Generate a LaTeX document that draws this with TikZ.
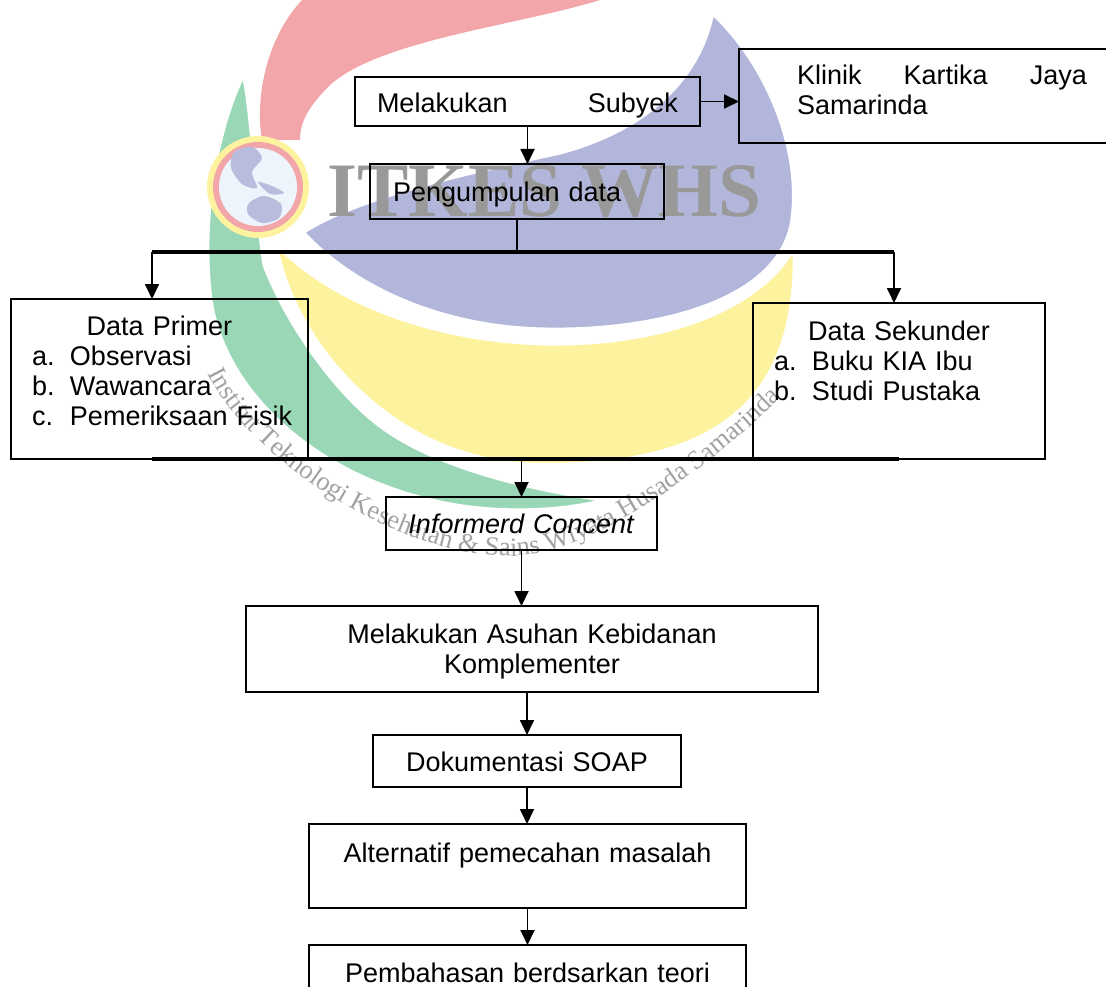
\documentclass[tikz,border=0pt]{standalone}
\usepackage{fontspec}
\setmainfont{Liberation Sans}
\newfontfamily\wmserif{Liberation Serif}
\usetikzlibrary{arrows.meta,decorations.text}
\definecolor{wmpink}{HTML}{F3A6AA}
\definecolor{wmblue}{HTML}{B2B6DA}
\definecolor{wmyellow}{HTML}{FDF39E}
\definecolor{wmgreen}{HTML}{9AD7B7}
\definecolor{wmglobe}{HTML}{EEF4FB}
\definecolor{wmland}{HTML}{B8BCDD}
\definecolor{wmgray}{HTML}{A2A2A2}
\definecolor{itkesgray}{HTML}{999999}
\newcommand{\baris}[1]{\leavevmode\hbox to\hsize{#1}}
\newcommand{\butir}[2]{\baris{\hskip21pt\hbox to38pt{#1\hfil}#2\hfil}}
\begin{document}
\begin{tikzpicture}[x=1pt, y=-1pt,
  font=\fontsize{27}{30}\selectfont,
  kotak/.style={draw, line width=1.8pt, rectangle, anchor=north west, inner xsep=0pt, inner ysep=0pt, outer sep=0pt, align=center},
  panah/.style={line width=1.8pt, -{Triangle[length=15pt,width=14pt]}},
  tipis/.style={line width=1.8pt},
  tebal/.style={line width=3.4pt},
  pisah/.style={draw=white, line width=5pt}]
\useasboundingbox (0,0) rectangle (1106,987);
\fill[white] (0,0) rectangle (1106,987);
% watermark
\fill[wmpink] (302,0) -- (600,0) .. controls (520,25) and (380,40) .. (330,85) .. controls (305,110) and (300,125) .. (300,140) -- (262,140) .. controls (255,100) and (265,40) .. (302,0) -- cycle;
\fill[wmgreen, pisah] (244,72) .. controls (215,130) and (200,220) .. (210,300) .. controls (225,400) and (330,490) .. (470,508) .. controls (530,515) and (580,508) .. (608,500) .. controls (540,490) and (440,470) .. (380,425) .. controls (340,395) and (290,330) .. (265,265) .. controls (255,200) and (255,130) .. (244,72) -- cycle;
\fill[wmyellow, pisah] (275,242) .. controls (290,340) and (390,460) .. (530,465) .. controls (720,470) and (800,400) .. (795,245) .. controls (760,310) and (660,345) .. (545,343) .. controls (430,340) and (330,300) .. (275,242) -- cycle;
\fill[wmblue, pisah] (712,12) .. controls (765,60) and (805,150) .. (792,225) .. controls (775,305) and (650,332) .. (545,330) .. controls (430,328) and (345,280) .. (302,232) .. controls (360,195) and (470,172) .. (560,152) .. controls (650,128) and (700,75) .. (712,12) -- cycle;
\fill[wmyellow] (258,187) circle[radius=51pt];
\fill[wmpink] (258,187) circle[radius=45pt];
\fill[wmglobe] (258,187) circle[radius=39pt];
\fill[wmland] plot[smooth cycle] coordinates {(234,152) (252,147) (262,158) (252,172) (257,188) (242,184) (231,168)};
\fill[wmland] plot[smooth cycle] coordinates {(258,182) (272,186) (284,193) (270,194)};
\fill[wmland] plot[smooth cycle] coordinates {(249,203) (264,196) (281,204) (279,218) (262,223) (248,214)};
\node[anchor=base west, inner sep=0pt, text=itkesgray, font=\wmserif\bfseries\fontsize{77}{77}\selectfont] (logo) at (327,217) {ITKES WHS};
\path[decorate, decoration={text along path, text align=center, text color=wmgray,
  text={|\wmserif\fontsize{26.5}{26.5}\selectfont|Institut Teknologi Kesehatan {\&} Sains Wiyata Husada Samarinda}}]
  (205,368) .. controls (240,450) and (390,556) .. (510,556) .. controls (600,556) and (730,450) .. (785,393);
% bagan
\node[kotak, inner xsep=22pt, text width=301pt, text height=36pt, text depth=13pt] (sbj) at (355,77) {\baris{Melakukan\hfil Subyek}};
\node[kotak, inner xsep=58pt, text width=290pt, text height=36pt, text depth=58pt] (kln) at (739,49) {\baris{Klinik\hfil Kartika\hfil Jaya}\\\baris{Samarinda\hfil}};
\node[kotak, text width=294pt, text height=38pt, text depth=17pt] (pgm) at (370,164) {\baris{\hskip23pt Pengumpulan data\hfil}};
\node[kotak, text width=297pt, text height=36pt, text depth=124pt] (prm) at (11,299) {Data Primer\\\butir{a.}{Observasi}\\\butir{b.}{Wawancara}\\\butir{c.}{Pemeriksaan Fisik}};
\node[kotak, text width=292pt, text height=37pt, text depth=119pt] (skd) at (753,303) {Data Sekunder\\\butir{a.}{Buku KIA Ibu}\\\butir{b.}{Studi Pustaka}};
\node[kotak, text width=271pt, text height=36pt, text depth=17pt] (inf) at (386,497) {\textit{Informerd Concent}};
\node[kotak, text width=572pt, text height=37pt, text depth=49pt] (ask) at (246,606) {Melakukan Asuhan Kebidanan\\Komplementer};
\node[kotak, text width=308pt, text height=36pt, text depth=16pt] (soap) at (373,735) {Dokumentasi SOAP};
\node[kotak, text width=437pt, text height=38pt, text depth=46pt] (alt) at (309,824) {Alternatif pemecahan masalah};
\node[kotak, text width=437pt, text height=37pt, text depth=50pt] (pmb) at (309,945) {Pembahasan berdsarkan teori};
\coordinate (cabKiri) at (152,252);
\coordinate (cabKanan) at (894,252);
\coordinate (gabKiri) at (152,459);
\coordinate (gabKanan) at (899,459);
\draw[panah] (sbj.east) -- (sbj.east -| kln.west);
\draw[panah] (sbj.south) -- (sbj.south |- pgm.north);
\draw[tipis] (pgm.south) -- (pgm.south |- cabKiri);
\draw[tebal] (cabKiri) -- (cabKanan);
\draw[panah] (cabKiri) -- (cabKiri |- prm.north);
\draw[panah] (cabKanan) -- (cabKanan |- skd.north);
\draw[tebal] (gabKiri) -- (gabKanan);
\draw[panah] (inf.north |- gabKiri) -- (inf.north);
\draw[panah] (inf.south) -- (inf.south |- ask.north);
\draw[panah] (soap.north |- ask.south) -- (soap.north);
\draw[panah] (soap.south) -- (soap.south |- alt.north);
\draw[panah] (alt.south) -- (alt.south |- pmb.north);
\end{tikzpicture}
\end{document}
